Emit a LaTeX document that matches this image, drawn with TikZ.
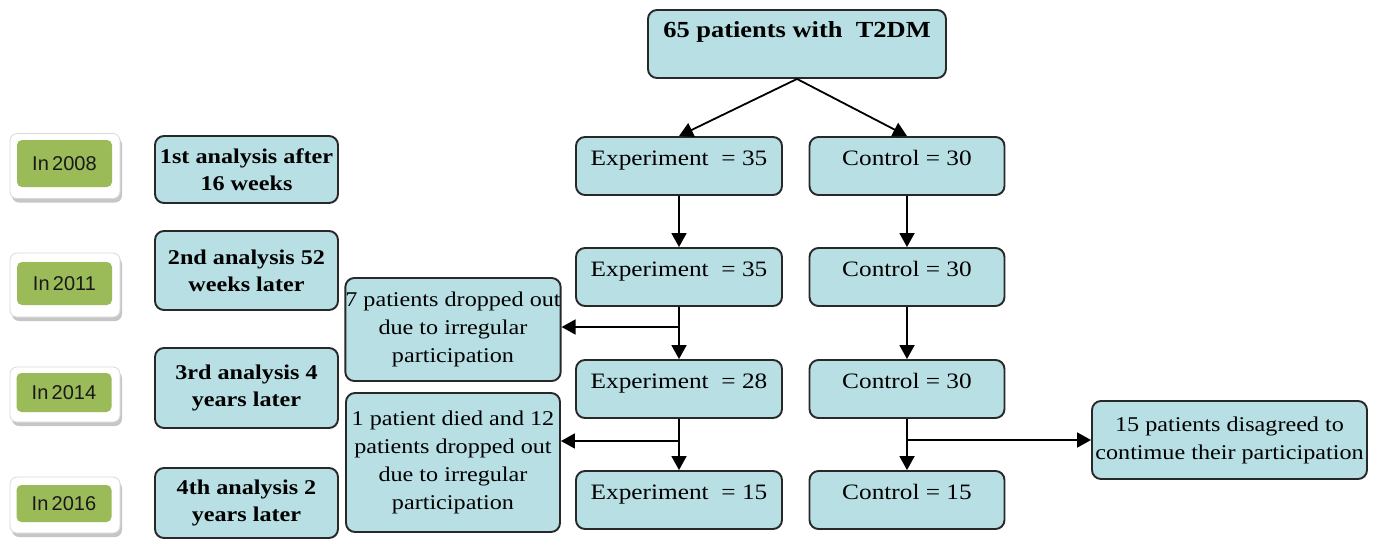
\documentclass[tikz,border=0pt]{standalone}
\usepackage{fontspec}
\setmainfont[FakeStretch=1.15]{Liberation Serif}
\newfontfamily\greenfont{Liberation Sans}
\usetikzlibrary{arrows.meta,shadows}
\definecolor{boxblue}{RGB}{183,223,228}
\definecolor{boxgreen}{RGB}{155,187,89}
\definecolor{edgec}{RGB}{40,40,40}
\begin{document}
\begin{tikzpicture}[x=1pt,y=-1pt,
  bbox/.style={draw=edgec, line width=1.9pt, fill=boxblue, rounded corners=9pt, inner sep=0pt, align=center},
  toptext/.style={text height=28pt, text depth=30pt},
  reg/.style={font=\fontsize{22}{28}\selectfont},
  bld/.style={font=\bfseries\fontsize{21}{27}\selectfont},
  outerg/.style={draw=black!15, line width=0.8pt, fill=white, rounded corners=7pt, inner sep=0pt,
     drop shadow={opacity=0.45, shadow xshift=2pt, shadow yshift=-4pt}},
  greenb/.style={fill=boxgreen, rounded corners=5pt, inner sep=0pt, text=black!90, font=\greenfont\fontsize{20}{22}\selectfont},
  arr/.style={line width=1.8pt, draw=black, -{Triangle[length=14pt,width=15pt]}},
  ]
\useasboundingbox (0,0) rectangle (1376,541);

% top
\node[bbox, text height=27pt, text depth=41pt, minimum width=298pt, font=\bfseries\fontsize{23}{27}\selectfont] (top) at (797,44) {65 patients with\ \ T2DM};

% experiment column
\node[bbox, reg, toptext, minimum width=206pt] (e1) at (679,166) {Experiment\ \ = 35};
\node[bbox, reg, toptext, minimum width=206pt] (e2) at (679,277) {Experiment\ \ = 35};
\node[bbox, reg, toptext, minimum width=206pt] (e3) at (679,389) {Experiment\ \ = 28};
\node[bbox, reg, toptext, minimum width=206pt] (e4) at (679,500) {Experiment\ \ = 15};

% control column
\node[bbox, reg, toptext, minimum width=195pt] (c1) at (907,166) {Control = 30};
\node[bbox, reg, toptext, minimum width=195pt] (c2) at (907,277) {Control = 30};
\node[bbox, reg, toptext, minimum width=195pt] (c3) at (907,389) {Control = 30};
\node[bbox, reg, toptext, minimum width=195pt] (c4) at (907,500) {Control = 15};

% analysis boxes
\node[bbox, bld, minimum width=183pt, minimum height=67pt] (a1) at (246.5,169.5) {1st analysis after\\16 weeks};
\node[bbox, bld, minimum width=183pt, minimum height=79pt] (a2) at (246.5,270.5) {2nd analysis 52\\weeks later};
\node[bbox, bld, minimum width=183pt, minimum height=80pt] (a3) at (246.5,388) {3rd analysis 4\\years later};
\node[bbox, bld, minimum width=183pt, minimum height=70pt] (a4) at (246.5,503) {4th analysis 2\\years later};

% dropped boxes
\node[bbox, minimum width=214pt, minimum height=103pt, font=\fontsize{21}{28}\selectfont] (d1) at (453,329.5) {7 patients dropped out\\due to irregular\\participation};
\node[bbox, minimum width=214pt, minimum height=139pt, font=\fontsize{21}{28}\selectfont] (d2) at (453,462.5) {1 patient died and 12\\patients dropped out\\due to irregular\\participation};

% disagree
\node[bbox, minimum width=275pt, minimum height=78pt, font=\fontsize{21}{28}\selectfont] (dis) at (1229.5,440) {15 patients disagreed to\\contimue their participation};

% green year boxes
\node[outerg, minimum width=110pt, minimum height=65pt] (g1o) at (65,166) {};
\node[greenb, minimum width=95pt, minimum height=47pt] (g1) at (64.5,163.5) {In\,2008};
\node[outerg, minimum width=110pt, minimum height=64pt] (g2o) at (65,285) {};
\node[greenb, minimum width=95pt, minimum height=43pt] (g2) at (64.5,283.5) {In\,2011};
\node[outerg, minimum width=110pt, minimum height=55pt] (g3o) at (65,394.5) {};
\node[greenb, minimum width=95pt, minimum height=39pt] (g3) at (64,392.5) {In\,2014};
\node[outerg, minimum width=110pt, minimum height=56pt] (g4o) at (65,505) {};
\node[greenb, minimum width=95pt, minimum height=37pt] (g4) at (64,503.5) {In\,2016};

% connectors
\draw[arr] (top.south) -- (e1.north);
\draw[arr] (top.south) -- (c1.north);
\draw[arr] (e1.south) -- (e2.north);
\draw[arr] (e2.south) -- (e3.north);
\coordinate (b1) at (679,327);
\draw[arr] (b1) -- (b1 -| d1.east);
\draw[arr] (e3.south) -- (e4.north);
\coordinate (b2) at (679,441);
\draw[arr] (b2) -- (b2 -| d2.east);
\draw[arr] (c1.south) -- (c2.north);
\draw[arr] (c2.south) -- (c3.north);
\draw[arr] (c3.south) -- (c4.north);
\coordinate (b3) at (907,440);
\draw[arr] (b3) -- (dis.west);
\end{tikzpicture}
\end{document}
